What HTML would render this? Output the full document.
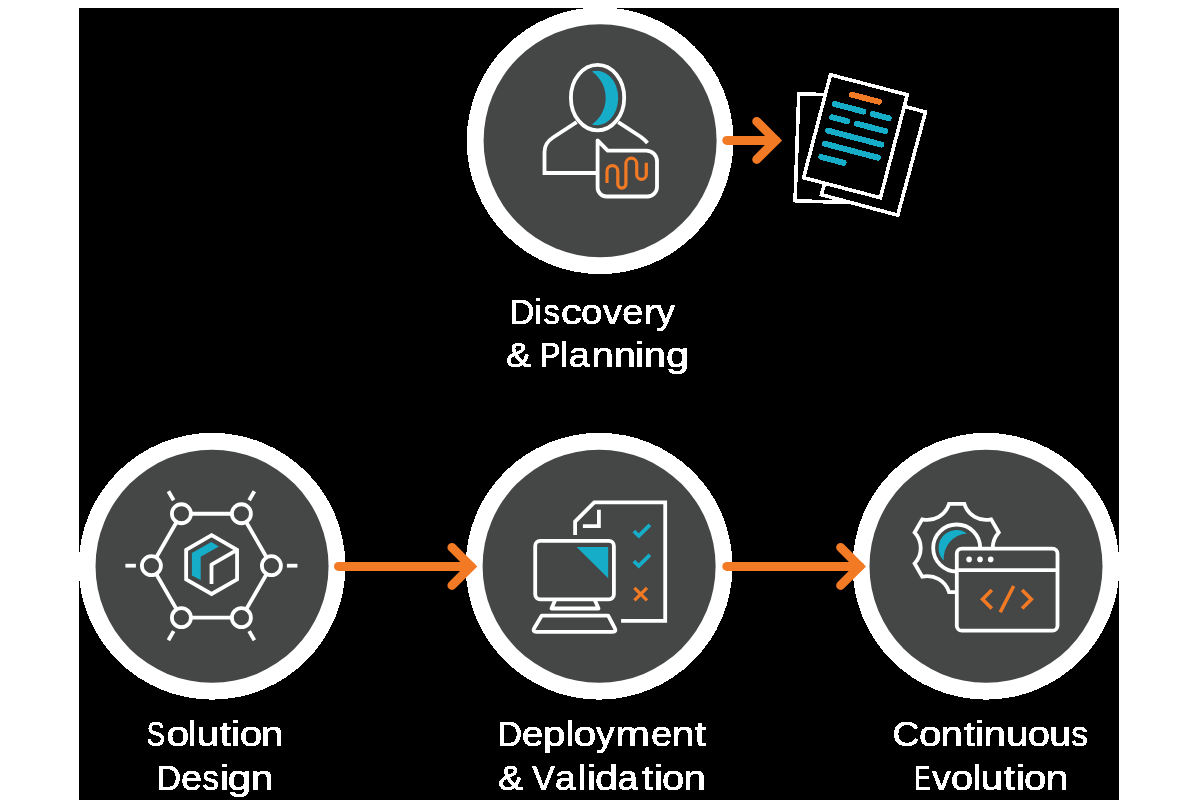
<!DOCTYPE html>
<html><head><meta charset="utf-8"><style>
html,body{margin:0;padding:0;background:#fff;width:1200px;height:810px;overflow:hidden}
svg{display:block;will-change:transform}
</style></head><body>
<svg width="1200" height="810" viewBox="0 0 1200 810">
<defs><filter id="bin" x="0" y="0" width="1200" height="810" filterUnits="userSpaceOnUse"><feComponentTransfer><feFuncA type="discrete" tableValues="0 1"/></feComponentTransfer></filter></defs>
<rect x="79" y="8" width="1040" height="792" fill="#000"/>
<circle cx="600.1" cy="140.7" r="133.4" fill="#ffffff" shape-rendering="crispEdges"/><circle cx="600.1" cy="140.7" r="116.5" fill="#454646"/>
<circle cx="212.05" cy="566.25" r="133.4" fill="#ffffff" shape-rendering="crispEdges"/><circle cx="212.05" cy="566.25" r="116.5" fill="#454646"/>
<circle cx="599.1" cy="566.25" r="133.4" fill="#ffffff" shape-rendering="crispEdges"/><circle cx="599.1" cy="566.25" r="116.5" fill="#454646"/>
<circle cx="986" cy="566.25" r="133.4" fill="#ffffff" shape-rendering="crispEdges"/><circle cx="986" cy="566.25" r="116.5" fill="#454646"/>
<line x1="726.8" y1="140.4" x2="775.74" y2="140.4" stroke="#F27A24" stroke-width="9" stroke-linecap="round"/><polyline points="756.74,121.4 775.74,140.4 756.74,159.4" fill="none" stroke="#F27A24" stroke-width="9" stroke-linecap="round" stroke-linejoin="miter"/>
<line x1="338.5" y1="566.4" x2="470.94" y2="566.4" stroke="#F27A24" stroke-width="9" stroke-linecap="round"/><polyline points="451.94,547.4 470.94,566.4 451.94,585.4" fill="none" stroke="#F27A24" stroke-width="9" stroke-linecap="round" stroke-linejoin="miter"/>
<line x1="726.8" y1="566.4" x2="859.64" y2="566.4" stroke="#F27A24" stroke-width="9" stroke-linecap="round"/><polyline points="840.64,547.4 859.64,566.4 840.64,585.4" fill="none" stroke="#F27A24" stroke-width="9" stroke-linecap="round" stroke-linejoin="miter"/>
<g fill="none" stroke="#ffffff" stroke-width="3.8">
<ellipse cx="597.55" cy="97.65" rx="26.65" ry="32.75"/>
<path d="M576.6,122.1 L553,137.5 Q544.5,143 544.5,152 V173 H597"/>
<path d="M618.2,122.1 L641,137 Q645,140 647.5,143"/>
<path d="M597.6,140.3 L607.7,150.55 H646.2 A10.8,10.8 0 0 1 657,161.35 V187 A9.5,9.5 0 0 1 647.5,196.5 H606.6 A9,9 0 0 1 597.6,187.5 Z" stroke-linejoin="round"/>
</g>
<path d="M591.9,71.6 A21.2,27.2 0 1 1 591.9,124.4 A32.2,32.2 0 0 0 591.9,71.6 Z" fill="#16ADC9"/>
<path d="M607,183 V171 A5.4,5.4 0 0 1 617.8,171 V184 A4.05,4.05 0 0 0 625.9,184 V163.6 A5.4,5.4 0 0 1 636.7,163.6 V174.5 A4.8,4.8 0 0 0 646.3,174.5 V162.7" fill="none" stroke="#F27A24" stroke-width="3.2"/>

<g shape-rendering="crispEdges">
<rect x="-39.7" y="-53.55" width="79.4" height="107.1" fill="#000" stroke="#ffffff" stroke-width="3.6" transform="translate(836.6,148.6) rotate(2.0)"/>
<rect x="-39.5" y="-53.4" width="79" height="106.8" fill="#000" stroke="#ffffff" stroke-width="3.6" transform="translate(873.45,153.35) rotate(15.0)"/>
<rect x="-39.7" y="-53.2" width="79.4" height="106.4" fill="#000" stroke="#ffffff" stroke-width="3.6" transform="translate(855.45,136.26) rotate(14.6)"/>
<g transform="translate(855.45,136.26) rotate(14.7)" stroke-width="5.9" stroke-linecap="round"><line x1="-14.05" y1="-39.3" x2="14.05" y2="-39.3" stroke="#F27A24"/><line x1="-28.05" y1="-25.9" x2="1.35" y2="-25.9" stroke="#16ADC9"/><line x1="11.25" y1="-25.9" x2="27.55" y2="-25.9" stroke="#16ADC9"/><line x1="-27.55" y1="-12.5" x2="-11.55" y2="-12.5" stroke="#16ADC9"/><line x1="-1.95" y1="-12.5" x2="27.75" y2="-12.5" stroke="#16ADC9"/><line x1="-27.85" y1="1.5" x2="27.35" y2="1.5" stroke="#16ADC9"/><line x1="-27.55" y1="15" x2="27.05" y2="15" stroke="#16ADC9"/><line x1="-27.75" y1="28.7" x2="-4.75" y2="28.7" stroke="#16ADC9"/></g>
</g>
<g stroke="#ffffff" stroke-width="3.8" fill="none"><path d="M271.4,565.7 L241.4,513.74 L181.4,513.74 L151.4,565.7 L181.4,617.66 L241.4,617.66 Z"/><line x1="286.9" y1="565.7" x2="297.4" y2="565.7"/><line x1="249.15" y1="500.32" x2="254.4" y2="491.22"/><line x1="173.65" y1="500.32" x2="168.4" y2="491.22"/><line x1="135.9" y1="565.7" x2="125.4" y2="565.7"/><line x1="173.65" y1="631.08" x2="168.4" y2="640.18"/><line x1="249.15" y1="631.08" x2="254.4" y2="640.18"/><circle cx="271.4" cy="565.7" r="9.5" fill="#454646"/><circle cx="241.4" cy="513.74" r="9.5" fill="#454646"/><circle cx="181.4" cy="513.74" r="9.5" fill="#454646"/><circle cx="151.4" cy="565.7" r="9.5" fill="#454646"/><circle cx="181.4" cy="617.66" r="9.5" fill="#454646"/><circle cx="241.4" cy="617.66" r="9.5" fill="#454646"/><path d="M211.6,535.2 L237.06,549.9 L237.06,579.3 L211.6,594 L186.14,579.3 L186.14,549.9 Z" stroke-linejoin="miter"/><path d="M211.5,584 V564.6 L237.06,549.9" stroke-linejoin="round"/></g><path d="M191.9,552.9 L211.3,542.1 L218.9,546.4 L200.7,556.8 V580.1 L191.9,575.4 Z" fill="#16ADC9"/>
<g fill="none" stroke="#ffffff" stroke-width="3.8">
<path d="M575.1,534.9 V521.6 L594.3,502.3 H665.2 V620.8 H621.1" stroke-linejoin="miter"/>
<path d="M598.9,509.7 V526.2 H582.9"/>
<rect x="535.2" y="540.9" width="78.7" height="58.4" rx="5" fill="#454646"/>
<path d="M555.5,599.3 L551.5,608.5 H598.5 L594.5,599.3" stroke-linejoin="round"/>
<path d="M541.8,615.6 H608.2 L614.8,628.2 Q616.6,631.8 612.6,631.8 H536.4 Q532.4,631.8 534.2,628.2 Z" stroke-linejoin="round"/>
</g>
<path d="M576.6,547 H608.2 V578.2 Z" fill="#16ADC9"/>
<g fill="none" stroke="#16ADC9" stroke-width="3.8">
<path d="M633.8,531.2 L638.8,535.8 L649.9,524.9"/>
<path d="M633.8,561.2 L638.8,565.8 L649.9,554.9"/>
</g>
<g stroke="#F27A24" stroke-width="3.3">
<line x1="634.4" y1="587.8" x2="647" y2="600.4"/><line x1="647" y1="587.8" x2="634.4" y2="600.4"/>
</g>

<g fill="none" stroke="#ffffff" stroke-width="3.8">
<path d="M964.3,503.8 L949.1,503.8 A22.8,22.8 0 0 1 922.22,519.32 L914.62,532.48 A22.8,22.8 0 0 1 914.62,563.52 L922.22,576.68 A22.8,22.8 0 0 1 949.1,592.2 L964.3,592.2 A22.8,22.8 0 0 1 991.18,576.68 L998.78,563.52 A22.8,22.8 0 0 1 998.78,532.48 L991.18,519.32 A22.8,22.8 0 0 1 964.3,503.8 Z" stroke-linejoin="miter"/>
<circle cx="956.7" cy="548" r="23.5"/>
</g>
<path d="M966.9,533.4 A17.9,17.9 0 0 0 943.8,560.6 A25,25 0 0 1 966.9,533.4 Z" fill="#16ADC9"/>
<rect x="956.8" y="548.6" width="100.7" height="82.1" rx="5" fill="#454646" stroke="#ffffff" stroke-width="3.8"/>
<line x1="956.8" y1="570.2" x2="1057.5" y2="570.2" stroke="#ffffff" stroke-width="3.8"/>
<g fill="#ffffff"><circle cx="969.1" cy="559.4" r="2.8"/><circle cx="980" cy="559.4" r="2.8"/><circle cx="990.7" cy="559.4" r="2.8"/></g>
<g fill="none" stroke="#F27A24" stroke-width="3.6">
<path d="M991.8,590 L982.6,599.2 L991.8,608.4"/>
<path d="M1022.1,590 L1031.3,599.2 L1022.1,608.4"/>
<line x1="1013.7" y1="586" x2="1000.2" y2="612.2"/>
</g>

<g filter="url(#bin)" fill="#ffffff" stroke="#ffffff" stroke-width="0.7" stroke-linejoin="round" font-size="35.5" font-family="Liberation Sans, sans-serif"><text x="509.55" y="323.5" textLength="24.84" lengthAdjust="spacingAndGlyphs">D</text><text x="533.45" y="323.5" textLength="9.05" lengthAdjust="spacingAndGlyphs">i</text><text x="543.38" y="323.5" textLength="16.43" lengthAdjust="spacingAndGlyphs">s</text><text x="560.65" y="323.5" textLength="21.31" lengthAdjust="spacingAndGlyphs">c</text><text x="581.05" y="323.5" textLength="21.35" lengthAdjust="spacingAndGlyphs">o</text><text x="602.84" y="323.5" textLength="19.29" lengthAdjust="spacingAndGlyphs">v</text><text x="622.19" y="323.5" textLength="21.14" lengthAdjust="spacingAndGlyphs">e</text><text x="643.67" y="323.5" textLength="12.99" lengthAdjust="spacingAndGlyphs">r</text><text x="656.18" y="323.5" textLength="18.71" lengthAdjust="spacingAndGlyphs">y</text><text x="505.95" y="367.4" textLength="25.06" lengthAdjust="spacingAndGlyphs">&amp;</text><text x="539.92" y="367.4" textLength="20.45" lengthAdjust="spacingAndGlyphs">P</text><text x="560.10" y="367.4" textLength="8.01" lengthAdjust="spacingAndGlyphs">l</text><text x="568.67" y="367.4" textLength="21.21" lengthAdjust="spacingAndGlyphs">a</text><text x="591.51" y="367.4" textLength="22.23" lengthAdjust="spacingAndGlyphs">n</text><text x="613.71" y="367.4" textLength="22.23" lengthAdjust="spacingAndGlyphs">n</text><text x="634.46" y="367.4" textLength="10.15" lengthAdjust="spacingAndGlyphs">i</text><text x="643.81" y="367.4" textLength="22.23" lengthAdjust="spacingAndGlyphs">n</text><text x="666.10" y="367.4" textLength="23.38" lengthAdjust="spacingAndGlyphs">g</text><text x="146.81" y="745.5" textLength="18.16" lengthAdjust="spacingAndGlyphs">S</text><text x="166.64" y="745.5" textLength="22.71" lengthAdjust="spacingAndGlyphs">o</text><text x="187.86" y="745.5" textLength="8.19" lengthAdjust="spacingAndGlyphs">l</text><text x="196.71" y="745.5" textLength="22.46" lengthAdjust="spacingAndGlyphs">u</text><text x="219.78" y="745.5" textLength="11.04" lengthAdjust="spacingAndGlyphs">t</text><text x="230.30" y="745.5" textLength="9.97" lengthAdjust="spacingAndGlyphs">i</text><text x="239.65" y="745.5" textLength="22.48" lengthAdjust="spacingAndGlyphs">o</text><text x="260.68" y="745.5" textLength="22.60" lengthAdjust="spacingAndGlyphs">n</text><text x="156.71" y="789.5" textLength="24.25" lengthAdjust="spacingAndGlyphs">D</text><text x="180.99" y="789.5" textLength="21.14" lengthAdjust="spacingAndGlyphs">e</text><text x="202.38" y="789.5" textLength="16.43" lengthAdjust="spacingAndGlyphs">s</text><text x="219.54" y="789.5" textLength="9.79" lengthAdjust="spacingAndGlyphs">i</text><text x="227.79" y="789.5" textLength="23.62" lengthAdjust="spacingAndGlyphs">g</text><text x="250.91" y="789.5" textLength="22.23" lengthAdjust="spacingAndGlyphs">n</text><text x="497.71" y="745.5" textLength="24.25" lengthAdjust="spacingAndGlyphs">D</text><text x="521.76" y="745.5" textLength="21.72" lengthAdjust="spacingAndGlyphs">e</text><text x="542.79" y="745.5" textLength="22.66" lengthAdjust="spacingAndGlyphs">p</text><text x="565.72" y="745.5" textLength="8.37" lengthAdjust="spacingAndGlyphs">l</text><text x="573.49" y="745.5" textLength="22.66" lengthAdjust="spacingAndGlyphs">o</text><text x="595.97" y="745.5" textLength="18.51" lengthAdjust="spacingAndGlyphs">y</text><text x="615.55" y="745.5" textLength="34.36" lengthAdjust="spacingAndGlyphs">m</text><text x="651.04" y="745.5" textLength="21.19" lengthAdjust="spacingAndGlyphs">e</text><text x="671.45" y="745.5" textLength="22.85" lengthAdjust="spacingAndGlyphs">n</text><text x="694.78" y="745.5" textLength="11.43" lengthAdjust="spacingAndGlyphs">t</text><text x="498.15" y="789.5" textLength="24.95" lengthAdjust="spacingAndGlyphs">&amp;</text><text x="532.21" y="789.5" textLength="22.62" lengthAdjust="spacingAndGlyphs">V</text><text x="555.01" y="789.5" textLength="20.69" lengthAdjust="spacingAndGlyphs">a</text><text x="577.62" y="789.5" textLength="8.37" lengthAdjust="spacingAndGlyphs">l</text><text x="586.50" y="789.5" textLength="9.97" lengthAdjust="spacingAndGlyphs">i</text><text x="595.00" y="789.5" textLength="23.27" lengthAdjust="spacingAndGlyphs">d</text><text x="618.10" y="789.5" textLength="20.01" lengthAdjust="spacingAndGlyphs">a</text><text x="642.08" y="789.5" textLength="11.04" lengthAdjust="spacingAndGlyphs">t</text><text x="653.36" y="789.5" textLength="10.15" lengthAdjust="spacingAndGlyphs">i</text><text x="662.01" y="789.5" textLength="22.20" lengthAdjust="spacingAndGlyphs">o</text><text x="683.35" y="789.5" textLength="22.85" lengthAdjust="spacingAndGlyphs">n</text><text x="892.52" y="745.5" textLength="26.97" lengthAdjust="spacingAndGlyphs">C</text><text x="918.95" y="745.5" textLength="22.37" lengthAdjust="spacingAndGlyphs">o</text><text x="940.40" y="745.5" textLength="22.35" lengthAdjust="spacingAndGlyphs">n</text><text x="963.98" y="745.5" textLength="10.94" lengthAdjust="spacingAndGlyphs">t</text><text x="974.78" y="745.5" textLength="9.60" lengthAdjust="spacingAndGlyphs">i</text><text x="983.72" y="745.5" textLength="22.17" lengthAdjust="spacingAndGlyphs">n</text><text x="1005.91" y="745.5" textLength="22.46" lengthAdjust="spacingAndGlyphs">u</text><text x="1027.86" y="745.5" textLength="22.14" lengthAdjust="spacingAndGlyphs">o</text><text x="1049.27" y="745.5" textLength="21.82" lengthAdjust="spacingAndGlyphs">u</text><text x="1071.37" y="745.5" textLength="16.77" lengthAdjust="spacingAndGlyphs">s</text><text x="914.36" y="789.5" textLength="16.41" lengthAdjust="spacingAndGlyphs">E</text><text x="932.09" y="789.5" textLength="18.89" lengthAdjust="spacingAndGlyphs">v</text><text x="950.85" y="789.5" textLength="22.37" lengthAdjust="spacingAndGlyphs">o</text><text x="972.57" y="789.5" textLength="8.64" lengthAdjust="spacingAndGlyphs">l</text><text x="980.73" y="789.5" textLength="22.27" lengthAdjust="spacingAndGlyphs">u</text><text x="1003.78" y="789.5" textLength="11.04" lengthAdjust="spacingAndGlyphs">t</text><text x="1015.60" y="789.5" textLength="9.97" lengthAdjust="spacingAndGlyphs">i</text><text x="1023.96" y="789.5" textLength="22.26" lengthAdjust="spacingAndGlyphs">o</text><text x="1045.44" y="789.5" textLength="23.04" lengthAdjust="spacingAndGlyphs">n</text></g>
</svg>
</body></html>
